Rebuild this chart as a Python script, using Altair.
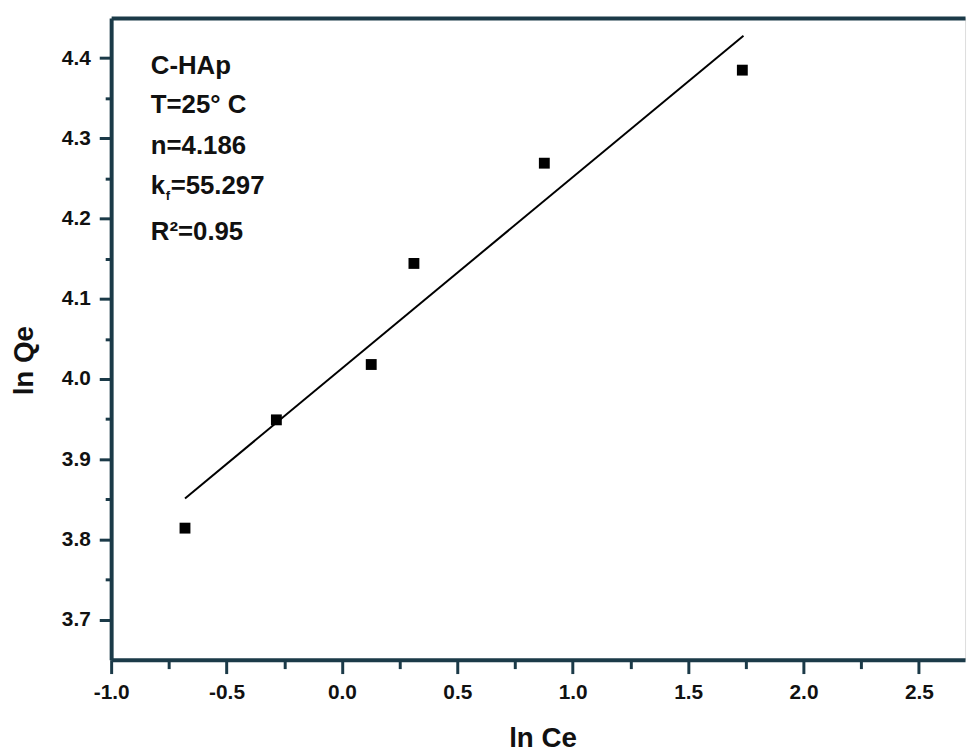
import altair as alt
import pandas as pd

# data
ln_ce = [-0.68, -0.284, 0.127, 0.312, 0.877, 1.735]
ln_qe = [3.814, 3.949, 4.018, 4.144, 4.269, 4.385]
fit_x = [-0.68, 1.74]
fit_y = [3.851, 4.428]

x_major = [-1.0, -0.5, 0.0, 0.5, 1.0, 1.5, 2.0, 2.5]
x_minor = [-0.75, -0.25, 0.25, 0.75, 1.25, 1.75, 2.25]
y_major = [3.7, 3.8, 3.9, 4.0, 4.1, 4.2, 4.3, 4.4]
y_minor = [3.75, 3.85, 3.95, 4.05, 4.15, 4.25, 4.35]

ann_lines = ["C-HAp", "T=25° C", "n=4.186", "R²=0.95"]
k_value = "=55.297"

AX = "#1b3a48"
FONT = "Liberation Sans"

pts = pd.DataFrame({"x": ln_ce, "y": ln_qe})
fit = pd.DataFrame({"x": fit_x, "y": fit_y})

xs = alt.Scale(domain=[-1.0, 2.7], nice=False, zero=False)
ys = alt.Scale(domain=[3.65, 4.45], nice=False, zero=False)

W, H = 861, 647

points = alt.Chart(pts).mark_point(shape="square", filled=True, size=120, color="black", opacity=1).encode(
    x=alt.X("x:Q", scale=xs, axis=alt.Axis(
        orient="bottom", values=x_major, labelExpr="replace(format(datum.value, '.1f'), '\u2212', '-')",
        title="ln Ce",
        domainColor=AX, domainWidth=4, tickColor=AX, tickWidth=3, tickSize=14,
        labelFont=FONT, labelFontWeight="bold", labelFontSize=21, labelColor="#111",
        labelPadding=8, labelFlush=False, grid=False,
        titleFont=FONT, titleFontWeight="bold", titleFontSize=28, titleColor="#111",
        titleX=435, titleY=80, titleBaseline="middle", titleAnchor="start", titleAlign="center")),
    y=alt.Y("y:Q", scale=ys, axis=alt.Axis(
        orient="left", values=y_major, format=".1f", title="ln Qe",
        domainColor=AX, domainWidth=4, tickColor=AX, tickWidth=3, tickSize=12,
        labelFont=FONT, labelFontWeight="bold", labelFontSize=21, labelColor="#111",
        labelPadding=9, grid=False,
        titleFont=FONT, titleFontWeight="bold", titleFontSize=28, titleColor="#111",
        titleX=-87, titleY=345, titleAngle=270, titleBaseline="middle", titleAlign="center", titleAnchor="start")),
)

line = alt.Chart(fit).mark_line(color="black", strokeWidth=2).encode(
    x=alt.X("x:Q", scale=xs, axis=alt.Axis(
        orient="bottom", values=x_minor, labels=False, title=None, domain=False,
        tickColor=AX, tickWidth=3, tickSize=9, grid=False)),
    y=alt.Y("y:Q", scale=ys, axis=alt.Axis(
        orient="left", values=y_minor, labels=False, title=None, domain=False,
        tickColor=AX, tickWidth=3, tickSize=6, grid=False)),
)

frame = alt.Chart(fit).mark_point(opacity=0).encode(
    x=alt.X("x:Q", scale=xs, axis=alt.Axis(
        orient="top", labels=False, ticks=False, title=None,
        domainColor=AX, domainWidth=4, grid=False)),
    y=alt.Y("y:Q", scale=ys, axis=None),
)

ann_y = {0: 63, 1: 103, 2: 144, 3: 184, 4: 231}

def txt(s, px, py, size=26):
    return alt.Chart(pd.DataFrame({"t": [s]})).mark_text(
        align="left", baseline="middle", font=FONT, fontWeight="bold", fontSize=size, color="#111"
    ).encode(text="t:N", x=alt.value(px), y=alt.value(py))

texts = [txt(s, 152 - 112, ann_y[r] - 15) for s, r in zip(ann_lines, [0, 1, 2, 4])]
texts.append(txt("k", 152 - 112, ann_y[3] - 15))
texts.append(txt("f", 167 - 112, ann_y[3] - 15 + 10, size=13))
texts.append(txt(k_value, 172 - 112, ann_y[3] - 15))

chart = alt.layer(points, line, frame, *texts).resolve_axis(
    x="independent", y="independent"
).properties(
    width=W, height=H,
    autosize=alt.AutoSizeParams(type="none"),
    padding={"left": 104, "top": 7, "right": 5, "bottom": 90},
).configure_view(stroke="#d5dde0", strokeWidth=1).configure(background="white")

chart.save("out.html", embed_options={"renderer": "svg", "actions": False})
